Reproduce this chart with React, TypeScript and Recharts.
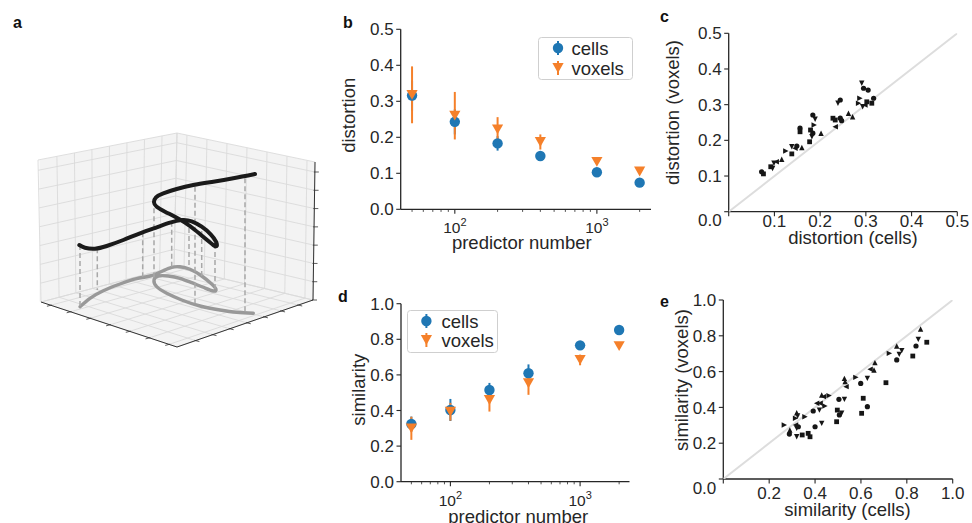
import React from 'react';
import {
  ComposedChart,
  ScatterChart,
  Scatter,
  XAxis,
  YAxis,
  ErrorBar,
  Area,
  Legend,
} from 'recharts';

// ---------------- styling constants ----------------
const FONT = '"Liberation Sans", Arial, Helvetica, sans-serif';
const AXIS = '#262626';
const TEXT = '#262626';
const BLUE = '#1f77b4';
const ORANGE = '#f5802a';
const MARK = '#161616';
const TICK_FS = 17;
const TITLE_FS = 18.5;
const LEG_FS = 18.5;

// ---------------- data: panels b & d ----------------
const predictorNumbers = [50, 100, 200, 400, 1000, 2000];
const distortionCells = [0.316, 0.243, 0.183, 0.148, 0.103, 0.074];
const distortionCellsErr = [0.042, 0.035, 0.02, 0.01, 0.006, 0.004];
const distortionVoxels = [0.318, 0.26, 0.222, 0.187, 0.132, 0.105];
const distortionVoxelsErr = [0.079, 0.066, 0.034, 0.021, 0.006, 0.005];
const similarityCells = [0.324, 0.403, 0.515, 0.609, 0.766, 0.852];
const similarityCellsErr = [0.042, 0.062, 0.04, 0.05, 0.012, 0.008];
const similarityVoxels = [0.3, 0.393, 0.459, 0.553, 0.684, 0.762];
const similarityVoxelsErr = [0.065, 0.05, 0.065, 0.065, 0.03, 0.012];
const seriesNames = ['cells', 'voxels'];

const logTicks = [50, 60, 70, 80, 90, 100, 200, 300, 400, 500, 600, 700, 800, 900, 1000, 2000];
const logMajorTicks = [100, 1000];
const logDomain = [41.6, 2404];
const distortionTicks = [0, 0.1, 0.2, 0.3, 0.4, 0.5];
const similarityTicks = [0, 0.2, 0.4, 0.6, 0.8, 1.0];

// ---------------- data: panel c (distortion cells vs voxels) ----------------
const cCircle = [[0.072, 0.112], [0.149, 0.184], [0.156, 0.234], [0.184, 0.271], [0.184, 0.22], [0.244, 0.262], [0.244, 0.313], [0.247, 0.255], [0.295, 0.346], [0.305, 0.341], [0.317, 0.318]];
const cSquare = [[0.076, 0.106], [0.092, 0.126], [0.138, 0.162], [0.156, 0.224], [0.177, 0.196], [0.179, 0.229], [0.228, 0.262], [0.233, 0.257], [0.302, 0.308], [0.313, 0.304]];
const cUp = [[0.116, 0.147], [0.16, 0.18], [0.202, 0.22], [0.262, 0.276], [0.271, 0.266]];
const cDown = [[0.099, 0.136], [0.096, 0.121], [0.138, 0.182], [0.182, 0.21], [0.189, 0.259], [0.239, 0.304], [0.291, 0.36], [0.293, 0.294]];
const cLeft = [[0.104, 0.14], [0.145, 0.178], [0.233, 0.238], [0.298, 0.299]];
const cRight = [[0.125, 0.17], [0.187, 0.243], [0.287, 0.318], [0.284, 0.304]];

// ---------------- data: panel e (similarity cells vs voxels) ----------------
const eCircle = [[0.288, 0.251], [0.327, 0.292], [0.392, 0.38], [0.4, 0.292], [0.504, 0.445], [0.506, 0.358], [0.599, 0.534], [0.628, 0.404], [0.756, 0.665], [0.84, 0.743]];
const eSquare = [[0.344, 0.246], [0.37, 0.255], [0.378, 0.236], [0.497, 0.385], [0.494, 0.32], [0.61, 0.451], [0.603, 0.367], [0.709, 0.538], [0.826, 0.687], [0.887, 0.764]];
const eUp = [[0.29, 0.274], [0.32, 0.37], [0.429, 0.469], [0.528, 0.562], [0.531, 0.544], [0.657, 0.609], [0.661, 0.65], [0.756, 0.743], [0.86, 0.838]];
const eDown = [[0.324, 0.352], [0.32, 0.283], [0.32, 0.236], [0.419, 0.385], [0.429, 0.311], [0.528, 0.445], [0.516, 0.367], [0.628, 0.562], [0.767, 0.696], [0.778, 0.717], [0.85, 0.78]];
const eLeft = [[0.315, 0.302], [0.407, 0.423], [0.422, 0.423], [0.436, 0.46], [0.535, 0.516], [0.64, 0.613]];
const eRight = [[0.266, 0.302], [0.315, 0.339], [0.356, 0.348], [0.443, 0.408], [0.461, 0.466], [0.578, 0.568], [0.724, 0.702]];
const identityLine = [[0, 0], [1, 1]];

// ---------------- data: panel a (projected 3-D scene) ----------------
const boxFloorBack = [174, 267];
const boxFloorLeft = [41, 302];
const boxFloorRight = [313, 300];
const boxFloorFront = [177, 347];
const boxTopBack = [177, 133];
const boxTopLeft = [38, 160];
const boxTopRight = [315, 162];
const gridA = [0, 0.108, 0.234, 0.36, 0.486, 0.612, 0.738, 0.864, 1];
const gridB = [0, 0.072, 0.217, 0.362, 0.507, 0.652, 0.797, 0.942, 1];
const gridH = [0, 0.1325, 0.265, 0.3975, 0.53, 0.6625, 0.795, 0.9275, 1];

const curve3d = [
  [79.3, 245], [85, 247.7], [95, 248.7], [106.7, 246], [123.3, 240], [140, 233.3], [156.7, 227.3],
  [170, 222.7], [181.7, 220], [191.7, 221.3], [201.7, 226.7], [210.7, 234.3], [216, 241.7], [216.7, 246],
  [213.3, 245], [205, 238.3], [195, 230], [185, 222.7], [175, 216.7], [165, 211.7], [156.7, 206.7],
  [154, 202.3], [156, 197.3], [163.3, 193.3], [176.7, 189], [193.3, 185], [213.3, 181.7], [233.3, 178.3], [255, 174],
];
const curveFloor = [
  [80, 306.7], [90, 298.3], [103.3, 290.7], [120, 284], [136.7, 278.7], [150, 276], [163.3, 270.7],
  [171.7, 267.3], [180, 266.7], [190, 269.3], [201.7, 276], [211.7, 284], [216, 289.3], [213.3, 291],
  [203.3, 287.3], [191.7, 282.7], [180, 278.3], [168.3, 276], [158.3, 276], [154, 280], [156.7, 286.7],
  [166.7, 293.3], [181.7, 300], [200, 306], [220, 310], [236.7, 312.3], [253.3, 313.3],
];
const dropLines = [
  [80, 245, 306.7], [97.3, 248.3, 290], [142.7, 232.3, 276.7], [154, 208.3, 280], [171.7, 221.7, 266.7],
  [189, 228, 268.5], [195, 186.7, 303.3], [201.7, 231, 276.7], [215, 244, 290], [245, 178.3, 313.3],
];

// ---------------- helpers ----------------
const toXY = (arr: number[][]) => arr.map(([x, y]) => ({ x, y }));
const lerp = (p: number[], q: number[], t: number) => [p[0] + (q[0] - p[0]) * t, p[1] + (q[1] - p[1]) * t];
const floorPt = (a: number, b: number) => {
  const B = boxFloorBack, L = boxFloorLeft, R = boxFloorRight, F = boxFloorFront;
  return [
    (1 - a) * (1 - b) * B[0] + a * (1 - b) * L[0] + (1 - a) * b * R[0] + a * b * F[0],
    (1 - a) * (1 - b) * B[1] + a * (1 - b) * L[1] + (1 - a) * b * R[1] + a * b * F[1],
  ];
};
const leftPane = (a: number, h: number) => lerp(floorPt(a, 0), lerp(boxTopBack, boxTopLeft, a), h);
const rightPane = (b: number, h: number) => lerp(floorPt(0, b), lerp(boxTopBack, boxTopRight, b), h);
const unit = (p: number[], q: number[]) => {
  const dx = q[0] - p[0], dy = q[1] - p[1];
  const n = Math.hypot(dx, dy);
  return [dx / n, dy / n];
};
const seg = (p: number[], q: number[]) => [{ x: p[0], y: p[1] }, { x: q[0], y: q[1] }];

const gridSegments = [
  ...gridA.map((a) => seg(leftPane(a, 0), leftPane(a, 1))),
  ...gridH.map((h) => seg(leftPane(0, h), leftPane(1, h))),
  ...gridB.map((b) => seg(rightPane(b, 0), rightPane(b, 1))),
  ...gridH.map((h) => seg(rightPane(0, h), rightPane(1, h))),
  ...gridA.map((a) => seg(floorPt(a, 0), floorPt(a, 1))),
  ...gridB.map((b) => seg(floorPt(0, b), floorPt(1, b))),
];
const axisSegments = [
  seg(floorPt(1, 0), floorPt(1, 1)),
  seg(floorPt(1, 1), floorPt(0, 1)),
  seg(rightPane(1, 0), rightPane(1, 1)),
];
const dirA = unit(boxFloorBack, boxFloorLeft);
const dirB = unit(boxFloorBack, boxFloorRight);
const tickSegments = [
  ...gridA.slice(1, -1).map((a) => {
    const p = floorPt(a, 1);
    return seg([p[0] - dirB[0], p[1] - dirB[1]], [p[0] + 4 * dirB[0], p[1] + 4 * dirB[1]]);
  }),
  ...gridB.slice(1, -1).map((b) => {
    const p = floorPt(1, b);
    return seg([p[0] - dirA[0], p[1] - dirA[1]], [p[0] + 4 * dirA[0], p[1] + 4 * dirA[1]]);
  }),
  ...gridH.slice(0, -1).map((h) => {
    const p = rightPane(1, h);
    return seg([p[0] - 1, p[1]], [p[0] + 4, p[1]]);
  }),
];
const paneSilhouette = [
  { x: 39.5, range: [301.5, 160] },
  { x: 177, range: [347, 133] },
  { x: 314, range: [300, 162] },
];

const noShape = () => <g />;

// ---------------- marker shapes ----------------
const CellDot = (props: any) => <circle cx={props.cx} cy={props.cy} r={5.2} fill={BLUE} />;
const VoxelTri = (props: any) => {
  const { cx, cy } = props;
  return <polygon points={`${cx - 5.6},${cy - 4.9} ${cx + 5.6},${cy - 4.9} ${cx},${cy + 4.9}`} fill={ORANGE} />;
};
const makeMarker = (kind: string) => (props: any) => {
  const { cx, cy } = props;
  if (cx == null || cy == null) return <g />;
  const s = 2.7;
  switch (kind) {
    case 'circle':
      return <circle cx={cx} cy={cy} r={2.6} fill={MARK} />;
    case 'square':
      return <rect x={cx - 2.4} y={cy - 2.4} width={4.8} height={4.8} fill={MARK} />;
    case 'up':
      return <polygon points={`${cx},${cy - s} ${cx - s},${cy + s} ${cx + s},${cy + s}`} fill={MARK} />;
    case 'down':
      return <polygon points={`${cx},${cy + s} ${cx - s},${cy - s} ${cx + s},${cy - s}`} fill={MARK} />;
    case 'left':
      return <polygon points={`${cx - s},${cy} ${cx + s},${cy - s} ${cx + s},${cy + s}`} fill={MARK} />;
    default:
      return <polygon points={`${cx + s},${cy} ${cx - s},${cy - s} ${cx - s},${cy + s}`} fill={MARK} />;
  }
};

// ---------------- ticks ----------------
function XLogTick(props: any) {
  const { x, y, payload } = props;
  const v = payload.value as number;
  const major = logMajorTicks.includes(v);
  const exp = Math.round(Math.log10(v));
  return (
    <g>
      <line x1={x} x2={x} y1={y} y2={y + (major ? 4.5 : 2.6)} stroke={AXIS} strokeWidth={major ? 1.1 : 0.8} />
      {major && (
        <text x={x} y={y + 24} textAnchor="middle" fontFamily={FONT} fontSize={15.5} fill={TEXT}>
          10
          <tspan dy={-7} fontSize={11}>
            {exp}
          </tspan>
        </text>
      )}
    </g>
  );
}
const makeYTick = (zeroDy: number) => (props: any) => {
  const { x, y, payload } = props;
  const v = payload.value as number;
  return (
    <g>
      <line x1={x - 4.5} x2={x} y1={y} y2={y} stroke={AXIS} strokeWidth={1.1} />
      <text x={x - 7} y={y + 0.36 * TICK_FS + (v === 0 ? zeroDy : 0)} textAnchor="end" fontFamily={FONT} fontSize={TICK_FS} fill={TEXT}>
        {v.toFixed(1)}
      </text>
    </g>
  );
};
const makeXLinTick = (baseline: number) => (props: any) => {
  const { x, y, payload } = props;
  const v = payload.value as number;
  return (
    <g>
      <line x1={x} x2={x} y1={y} y2={y + 4.5} stroke={AXIS} strokeWidth={1.1} />
      {v !== 0 && (
        <text x={x} y={y + baseline} textAnchor="middle" fontFamily={FONT} fontSize={TICK_FS} fill={TEXT}>
          {v.toFixed(1)}
        </text>
      )}
    </g>
  );
};

// ---------------- axis titles ----------------
const AxisTitle = (props: any) => {
  const { tx, ty, rot, txt } = props;
  return (
    <text
      x={tx}
      y={ty}
      transform={rot ? `rotate(-90 ${tx} ${ty})` : undefined}
      textAnchor="middle"
      dominantBaseline={rot ? 'central' : 'auto'}
      fontFamily={FONT}
      fontSize={TITLE_FS}
      fill={TEXT}
    >
      {txt}
    </text>
  );
};

// ---------------- legend ----------------
const LegendSvg = ({ w, h, mx, tx, rows }: any) => (
  <svg width={w} height={h} style={{ display: 'block' }}>
    <rect x={0.5} y={0.5} width={w - 1} height={h - 1} rx={3} fill="#fff" fillOpacity={0.85} stroke="#cfcfcf" strokeWidth={1} />
    {seriesNames.map((name, i) => {
      const cy = rows[i];
      const col = i === 0 ? BLUE : ORANGE;
      return (
        <g key={name}>
          <line x1={mx} x2={mx} y1={cy - 7} y2={cy + 7} stroke={col} strokeWidth={2} />
          {i === 0 ? (
            <circle cx={mx} cy={cy} r={5.2} fill={BLUE} />
          ) : (
            <polygon points={`${mx - 5.6},${cy - 4.9} ${mx + 5.6},${cy - 4.9} ${mx},${cy + 4.9}`} fill={ORANGE} />
          )}
          <text x={tx} y={cy + 0.36 * LEG_FS} fontFamily={FONT} fontSize={LEG_FS} fill={TEXT}>
            {name}
          </text>
        </g>
      );
    })}
  </svg>
);

// ---------------- geometry ----------------
type Geo = { left: number; top: number; width: number; height: number; pl: number; pr: number; pt: number; pb: number };
const XAXIS_H = 40;
const layoutOf = (g: Geo) => ({
  yw: g.pl - g.left,
  margin: { left: 0, right: g.left + g.width - g.pr, top: g.pt - g.top, bottom: g.top + g.height - g.pb - XAXIS_H },
});

const geoB: Geo = { left: 330, top: 0, width: 330, height: 260, pl: 400.7, pr: 651, pt: 29.3, pb: 209.3 };
const geoD: Geo = { left: 330, top: 260, width: 320, height: 263, pl: 401, pr: 629.5, pt: 303.7, pb: 481.7 };
const geoC: Geo = { left: 650, top: 0, width: 322, height: 260, pl: 728.7, pr: 957.3, pt: 33.3, pb: 211.7 };
const geoE: Geo = { left: 650, top: 260, width: 322, height: 263, pl: 723.3, pr: 952.7, pt: 300, pb: 479 };

const pack = (xs: number[], ys: number[], es: number[]) => xs.map((x, i) => ({ x, y: ys[i], err: es[i] }));

function LogPanel({ geo, cells, cellsErr, voxels, voxelsErr, yTicks, yTitle, yTitleDist, yTitleDy, xTitleBase, xTitleDx, legend }: any) {
  const { yw, margin } = layoutOf(geo);
  const yMax = yTicks[yTicks.length - 1];
  const midY = (geo.pt + geo.pb) / 2 - geo.top;
  const midX = (geo.pl + geo.pr) / 2 - geo.left;
  return (
    <div style={{ position: 'absolute', left: geo.left, top: geo.top }}>
      <ScatterChart width={geo.width} height={geo.height} margin={margin}>
        <XAxis
          type="number"
          dataKey="x"
          scale="log"
          domain={logDomain}
          allowDataOverflow
          ticks={logTicks}
          interval={0}
          height={XAXIS_H}
          tickSize={0}
          tickMargin={0}
          tickLine={false}
          axisLine={{ stroke: AXIS, strokeWidth: 1.3 }}
          tick={XLogTick}
          label={<AxisTitle tx={midX + xTitleDx} ty={geo.pb - geo.top + xTitleBase} txt="predictor number" />}
        />
        <YAxis
          type="number"
          dataKey="y"
          domain={[0, yMax]}
          allowDataOverflow
          ticks={yTicks}
          interval={0}
          width={yw}
          tickSize={0}
          tickMargin={0}
          tickLine={false}
          axisLine={{ stroke: AXIS, strokeWidth: 1.3 }}
          tick={makeYTick(0)}
          label={<AxisTitle tx={yw - yTitleDist} ty={midY + yTitleDy} rot txt={yTitle} />}
        />
        <Scatter name={seriesNames[0]} data={pack(predictorNumbers, cells, cellsErr)} shape={CellDot} isAnimationActive={false}>
          <ErrorBar dataKey="err" direction="y" width={0} stroke={BLUE} strokeWidth={2} isAnimationActive={false} />
        </Scatter>
        <Scatter name={seriesNames[1]} data={pack(predictorNumbers, voxels, voxelsErr)} shape={VoxelTri} isAnimationActive={false}>
          <ErrorBar dataKey="err" direction="y" width={0} stroke={ORANGE} strokeWidth={2} isAnimationActive={false} />
        </Scatter>
        <Legend
          layout="vertical"
          align="center"
          verticalAlign="middle"
          wrapperStyle={{ left: legend.left, top: legend.top, width: legend.w, height: legend.h, lineHeight: 0 }}
          content={() => <LegendSvg {...legend} />}
        />
      </ScatterChart>
    </div>
  );
}

function ComparePanel({ geo, groups, ticks, xTitle, yTitle, yTitleDist, yTitleDy, xTitleBase, xTitleDx, xTickBase, zeroDy }: any) {
  const { yw, margin } = layoutOf(geo);
  const max = ticks[ticks.length - 1];
  const midY = (geo.pt + geo.pb) / 2 - geo.top;
  const midX = (geo.pl + geo.pr) / 2 - geo.left;
  const diag = toXY(identityLine.map(([a, b]) => [a * max, b * max]));
  return (
    <div style={{ position: 'absolute', left: geo.left, top: geo.top }}>
      <ScatterChart width={geo.width} height={geo.height} margin={margin}>
        <XAxis
          type="number"
          dataKey="x"
          domain={[0, max]}
          allowDataOverflow
          ticks={ticks}
          interval={0}
          height={XAXIS_H}
          tickSize={0}
          tickMargin={0}
          tickLine={false}
          axisLine={{ stroke: AXIS, strokeWidth: 1.3 }}
          tick={makeXLinTick(xTickBase)}
          label={<AxisTitle tx={midX + xTitleDx} ty={geo.pb - geo.top + xTitleBase} txt={xTitle} />}
        />
        <YAxis
          type="number"
          dataKey="y"
          domain={[0, max]}
          allowDataOverflow
          ticks={ticks}
          interval={0}
          width={yw}
          tickSize={0}
          tickMargin={0}
          tickLine={false}
          axisLine={{ stroke: AXIS, strokeWidth: 1.3 }}
          tick={makeYTick(zeroDy)}
          label={<AxisTitle tx={yw - yTitleDist} ty={midY + yTitleDy} rot txt={yTitle} />}
        />
        <Scatter data={diag} line={{ stroke: '#dddddd', strokeWidth: 2 }} shape={noShape} isAnimationActive={false} />
        {groups.map((g: any) => (
          <Scatter key={g.kind} data={toXY(g.pts)} shape={makeMarker(g.kind)} isAnimationActive={false} />
        ))}
      </ScatterChart>
    </div>
  );
}

function Panel3D() {
  return (
    <div style={{ position: 'absolute', left: 0, top: 0 }}>
      <ComposedChart width={330} height={523} data={paneSilhouette} margin={{ top: 0, right: 0, bottom: 0, left: 0 }}>
        <XAxis type="number" dataKey="x" domain={[0, 330]} allowDataOverflow hide />
        <YAxis type="number" dataKey="y" domain={[0, 523]} allowDataOverflow reversed hide />
        <Area dataKey="range" type="linear" stroke="none" fill="#f3f3f3" fillOpacity={1} isAnimationActive={false} />
        {gridSegments.map((s, i) => (
          <Scatter key={`g${i}`} data={s} line={{ stroke: '#dadada', strokeWidth: 0.9 }} shape={noShape} isAnimationActive={false} />
        ))}
        {axisSegments.map((s, i) => (
          <Scatter key={`a${i}`} data={s} line={{ stroke: '#333333', strokeWidth: 1 }} shape={noShape} isAnimationActive={false} />
        ))}
        {tickSegments.map((s, i) => (
          <Scatter key={`t${i}`} data={s} line={{ stroke: '#333333', strokeWidth: 0.8 }} shape={noShape} isAnimationActive={false} />
        ))}
        <Scatter
          data={toXY(curveFloor)}
          line={{ stroke: '#999999', strokeWidth: 3.4, strokeLinecap: 'round', strokeLinejoin: 'round' }}
          lineJointType="natural"
          shape={noShape}
          isAnimationActive={false}
        />
        {dropLines.map(([x, y1, y2], i) => (
          <Scatter
            key={`d${i}`}
            data={[{ x, y: y1 }, { x, y: y2 }]}
            line={{ stroke: '#a8a8a8', strokeWidth: 1.5, strokeDasharray: '5 3' }}
            shape={noShape}
            isAnimationActive={false}
          />
        ))}
        <Scatter
          data={toXY(curve3d)}
          line={{ stroke: '#1a1a1a', strokeWidth: 4, strokeLinecap: 'round', strokeLinejoin: 'round' }}
          lineJointType="natural"
          shape={noShape}
          isAnimationActive={false}
        />
      </ComposedChart>
    </div>
  );
}

const panelLetters = [
  { t: 'a', x: 13, y: 28 },
  { t: 'b', x: 343, y: 28.3 },
  { t: 'c', x: 660, y: 21.7 },
  { t: 'd', x: 338, y: 301.7 },
  { t: 'e', x: 660, y: 306.7 },
];

export default function App() {
  return (
    <div style={{ position: 'absolute', left: 0, top: 0, width: 972, height: 523, background: '#fff', overflow: 'hidden' }}>
      <Panel3D />
      <LogPanel
        geo={geoB}
        cells={distortionCells}
        cellsErr={distortionCellsErr}
        voxels={distortionVoxels}
        voxelsErr={distortionVoxelsErr}
        yTicks={distortionTicks}
        yTitle="distortion"
        yTitleDist={51.7}
        yTitleDy={-4}
        xTitleBase={40}
        xTitleDx={-4}
        legend={{ left: 208.3, top: 37.3, w: 95, h: 43, mx: 20, tx: 33.4, rows: [11, 31] }}
      />
      <LogPanel
        geo={geoD}
        cells={similarityCells}
        cellsErr={similarityCellsErr}
        voxels={similarityVoxels}
        voxelsErr={similarityVoxelsErr}
        yTicks={similarityTicks}
        yTitle="similarity"
        yTitleDist={42.5}
        yTitleDy={-3}
        xTitleBase={41}
        xTitleDx={3}
        legend={{ left: 77.3, top: 50, w: 91, h: 43, mx: 19.4, tx: 34.4, rows: [11, 30] }}
      />
      <ComparePanel
        geo={geoC}
        groups={[
          { kind: 'circle', pts: cCircle },
          { kind: 'square', pts: cSquare },
          { kind: 'up', pts: cUp },
          { kind: 'down', pts: cDown },
          { kind: 'left', pts: cLeft },
          { kind: 'right', pts: cRight },
        ]}
        ticks={distortionTicks}
        xTitle="distortion (cells)"
        yTitle="distortion (voxels)"
        yTitleDist={56.7}
        yTitleDy={-10}
        xTitleBase={32.6}
        xTitleDx={10}
        xTickBase={15}
        zeroDy={8}
      />
      <ComparePanel
        geo={geoE}
        groups={[
          { kind: 'circle', pts: eCircle },
          { kind: 'square', pts: eSquare },
          { kind: 'up', pts: eUp },
          { kind: 'down', pts: eDown },
          { kind: 'left', pts: eLeft },
          { kind: 'right', pts: eRight },
        ]}
        ticks={similarityTicks}
        xTitle="similarity (cells)"
        yTitle="similarity (voxels)"
        yTitleDist={41.8}
        yTitleDy={-9.5}
        xTitleBase={36.5}
        xTitleDx={9.5}
        xTickBase={19.5}
        zeroDy={8.5}
      />
      <svg width={972} height={523} style={{ position: 'absolute', left: 0, top: 0, pointerEvents: 'none' }}>
        {panelLetters.map((p) => (
          <text key={p.t} x={p.x} y={p.y} fontFamily={FONT} fontWeight="bold" fontSize={16} fill="#111">
            {p.t}
          </text>
        ))}
      </svg>
    </div>
  );
}
